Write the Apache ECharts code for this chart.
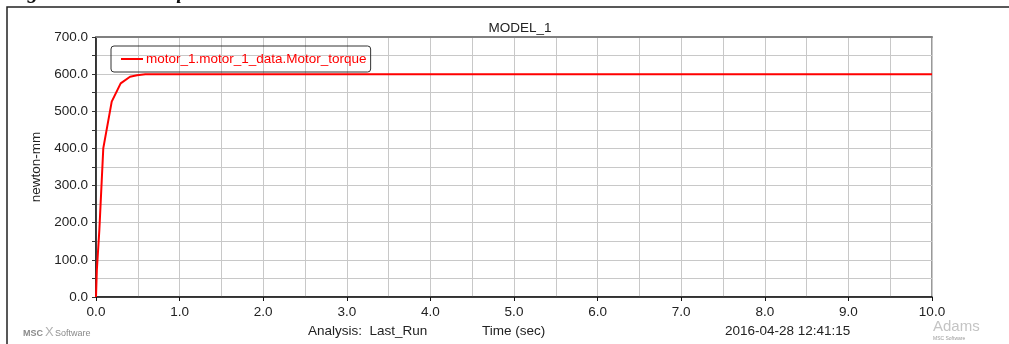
<!DOCTYPE html>
<html>
<head>
<meta charset="utf-8">
<script src="https://cdn.jsdelivr.net/npm/echarts@6/dist/echarts.min.js"></script>
<style>
html,body{margin:0;padding:0;background:#fff;}
#chart{width:1009px;height:344px;}
</style>
</head>
<body>
<div id="chart"></div>
<script>
// 时间 (sec)
var times = [0, 0.01, 0.04, 0.087, 0.188, 0.295, 0.407, 0.49, 0.59, 1.0, 10.0];
// Motor_torque (newton-mm)
var torque = [0, 72, 180, 400, 526, 575, 593, 597, 600, 600, 600];
var seriesName = 'motor_1.motor_1_data.Motor_torque';

var pts = [];
for (var i = 0; i < times.length; i++) {
	pts.push([times[i], torque[i]]);
}

var font = 'Liberation Sans, Arial, sans-serif';
var gridColor = '#c8c8c8';
var fs = 13.5;

var option = {
	backgroundColor: '#fff',
	animation: false,
	title: {text: 'MODEL_1', left: 515, top: 16, textAlign: 'center',
		textStyle: {fontFamily: font, fontSize: fs, fontWeight: 'normal', color: '#222'}},
	legend: {
		left: 111, top: 46,
		data: [seriesName],
		icon: 'rect', itemWidth: 22, itemHeight: 2, itemGap: 0,
		padding: [6, 4, 6, 10],
		borderColor: '#333', borderWidth: 1, borderRadius: 3,
		textStyle: {color: '#ff0000', fontFamily: font, fontSize: fs, padding: [0, 0, 0, -2]}
	},
	grid: {left: 96, right: 77, top: 37, bottom: 47, show: true, borderColor: '#333', borderWidth: 1},
	xAxis: [
		{
			type: 'value', min: 0, max: 10, interval: 1,
			axisLine: {lineStyle: {color: '#111', width: 1.5}},
			axisTick: {show: true, length: 4, lineStyle: {color: '#111'}},
			axisLabel: {fontFamily: font, fontSize: fs, color: '#222', margin: 8,
				formatter: function(v){ return v.toFixed(1); }},
			splitLine: {show: true, lineStyle: {color: gridColor, width: 1}},
			minorTick: {show: false, splitNumber: 2},
			minorSplitLine: {show: true, lineStyle: {color: gridColor, width: 1}}
		},
		{
			type: 'value', position: 'top', min: 0, max: 10,
			axisLine: {show: true, lineStyle: {color: '#808080', width: 2}},
			axisTick: {show: false}, axisLabel: {show: false}, splitLine: {show: false}
		}
	],
	yAxis: {
		type: 'value', min: 0, max: 700, interval: 100,
		name: 'newton-mm', nameLocation: 'middle', nameGap: 52, nameRotate: 90,
		nameTextStyle: {fontFamily: font, fontSize: fs, color: '#222'},
		axisLine: {show: true, lineStyle: {color: '#111', width: 1.5}},
		axisTick: {show: true, length: 4, lineStyle: {color: '#333'}},
		minorTick: {show: true, splitNumber: 2, length: 4, lineStyle: {color: '#333'}},
		axisLabel: {fontFamily: font, fontSize: fs, color: '#222', margin: 8,
			formatter: function(v){ return v.toFixed(1); }},
		splitLine: {show: true, lineStyle: {color: gridColor, width: 1}},
		minorSplitLine: {show: true, lineStyle: {color: gridColor, width: 1}}
	},
	graphic: [
		// 外框
		{type: 'rect', shape: {x: 7, y: 7, width: 1020, height: 360}, style: {fill: 'none', stroke: '#222', lineWidth: 1.5}, z: -1},
		{type: 'text', left: 8, top: -18, style: {text: 'Figure 4 Motor torque', font: 'italic bold 21px "Liberation Serif", serif', fill: '#111'}},
		{type: 'text', left: 308, top: 324, style: {text: 'Analysis:  Last_Run', font: fs + 'px ' + font, fill: '#222'}},
		{type: 'text', left: 482, top: 324, style: {text: 'Time (sec)', font: fs + 'px ' + font, fill: '#222'}},
		{type: 'text', left: 725, top: 324, style: {text: '2016-04-28 12:41:15', font: fs + 'px ' + font, fill: '#222'}},
		{type: 'text', left: 23, top: 329, style: {text: 'MSC', font: 'bold 9px ' + font, fill: '#8a8a8a'}},
		{type: 'text', left: 45, top: 326, style: {text: 'X', font: '13px ' + font, fill: '#b0b0b0'}},
		{type: 'text', left: 55, top: 329, style: {text: 'Software', font: '9px ' + font, fill: '#8a8a8a'}},
		{type: 'text', left: 933, top: 319, style: {text: 'Adams', font: '15px ' + font, fill: '#c4c4c4'}},
		{type: 'text', left: 933, top: 336, style: {text: 'MSC Software', font: '5px ' + font, fill: '#9a9a9a'}}
	],
	series: [
		{
			name: seriesName,
			type: 'line',
			xAxisIndex: 0,
			data: pts,
			showSymbol: false,
			lineStyle: {color: '#ff0000', width: 2},
			itemStyle: {color: '#ff0000'}
		}
	]
};

var myChart = echarts.init(document.getElementById('chart'));
myChart.setOption(option);
</script>
</body>
</html>
